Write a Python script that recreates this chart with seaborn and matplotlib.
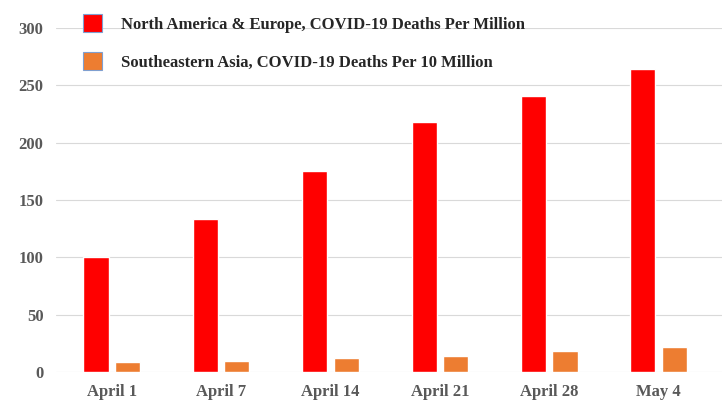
import matplotlib
matplotlib.use("Agg")
import matplotlib.pyplot as plt
import seaborn as sns
import pandas as pd
from matplotlib.patches import Patch

dates = ["April 1", "April 7", "April 14", "April 21", "April 28", "May 4"]
na_eu = [100, 133, 175, 218, 241, 264]
se_asia = [9, 10, 12, 14, 18, 22]
series_names = ["North America & Europe, COVID-19 Deaths Per Million",
                "Southeastern Asia, COVID-19 Deaths Per 10 Million"]
colors = ["#ff0000", "#ed7d31"]
yticks = [0, 50, 100, 150, 200, 250, 300]

df = pd.DataFrame({
    "date": dates * 2,
    "value": na_eu + se_asia,
    "series": [series_names[0]] * len(dates) + [series_names[1]] * len(dates),
})

sns.set_theme(style="white")
plt.rcParams["font.family"] = ["Liberation Serif", "DejaVu Serif"]

fig = plt.figure(figsize=(7.22, 4.0), dpi=100)
ax = fig.add_axes([56 / 722, 28 / 400, 1 - 56 / 722, 344 / 400])

sns.barplot(data=df, x="date", y="value", hue="series", order=dates,
            hue_order=series_names, palette=colors, width=0.575, gap=0.2,
            saturation=1, legend=False, ax=ax)

ax.set_ylim(0, 300)
ax.set_xlim(-0.51, 5.58)
ax.set_yticks(yticks)
ax.set_yticklabels([str(t) for t in yticks], fontsize=12, fontweight="bold", color="#595959")
ax.set_xticklabels(dates, fontsize=12, fontweight="bold", color="#595959")
ax.set_xlabel("")
ax.set_ylabel("")
ax.yaxis.grid(True, color="#d9d9d9", linewidth=0.8)
ax.set_axisbelow(True)
for s in ax.spines.values():
    s.set_visible(False)
ax.tick_params(axis="x", length=0, pad=9)
ax.tick_params(axis="y", length=0, pad=9)

handles = [Patch(facecolor=c, edgecolor="#7f9fd0", linewidth=0.8) for c in colors]
fig.legend(handles, series_names, loc="upper left", bbox_to_anchor=(83 / 722, 1 - 14 / 400),
           frameon=False, prop={"family": "Liberation Serif", "weight": "bold", "size": 12},
           handlelength=1.14, handleheight=1.3, handletextpad=1.14, labelspacing=1.15,
           borderaxespad=0, borderpad=0)

fig.savefig("out.png", dpi=100)
